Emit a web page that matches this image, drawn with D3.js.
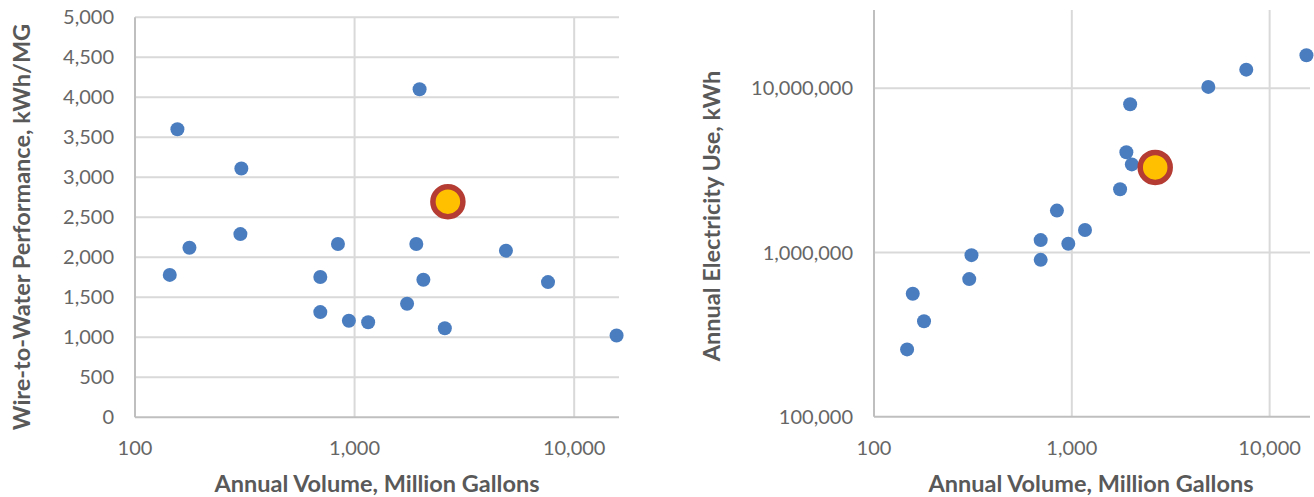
<!DOCTYPE html>
<html>
<head>
<meta charset="utf-8">
<script src="https://cdn.jsdelivr.net/npm/d3@7"></script>
<style>
  body { margin: 0; background: #fff; }
  svg { display: block; font-family: Lato, "Open Sans", sans-serif; }
  .tick-label { fill: #666; font-size: 20px; }
  .axis-title { fill: #595959; font-size: 23.5px; font-weight: bold; }
</style>
</head>
<body>
<svg id="chart" width="1314" height="497"></svg>
<script>

// left panel: annual volume (MG) vs wire-to-water performance (kWh/MG)
const perfVolume = [144, 156, 177, 305, 302, 698, 698, 840, 942, 1153, 1734, 1910, 1977, 2057, 2576, 4890, 7600, 15600];
const perfValue  = [1780, 3600, 2120, 3110, 2290, 1753, 1315, 2166, 1206, 1189, 1419, 2166, 4100, 1720, 1114, 2083, 1690, 1022];
const perfHighlight = [2660, 2695];

// right panel: annual volume (MG) vs annual electricity use (kWh)
const useVolume = [147, 157, 179, 303, 311, 696, 696, 841, 960, 1166, 1754, 1887, 2011, 1972, 2580, 4900, 7620, 15350];
const useValue  = [257000, 561000, 381000, 689000, 964000, 902000, 1190000, 1800000, 1130000, 1370000, 2430000, 4080000, 3440000, 8000000, 2890000, 10200000, 13000000, 15900000];
const useHighlight = [2640, 3300000];

const volumeTicks = [100, 1000, 10000];
const perfTicks = [0, 500, 1000, 1500, 2000, 2500, 3000, 3500, 4000, 4500, 5000];
const useTicks = [100000, 1000000, 10000000];

const volumeTitle = "Annual Volume, Million Gallons";
const perfTitle = "Wire-to-Water Performance, kWh/MG";
const useTitle = "Annual Electricity Use, kWh";

const svg = d3.select("#chart");
const fmt = d3.format(",");

function drawPanel(p) {
  const g = svg.append("g");
  const x = p.x, y = p.y;
  const [x0, x1] = x.range();
  const [y0, y1] = y.range();

  // horizontal gridlines
  g.append("g").selectAll("line")
    .data(p.yTicks.slice(1))
    .join("line")
    .attr("x1", x0).attr("x2", x1)
    .attr("y1", d => y(d)).attr("y2", d => y(d))
    .attr("stroke", "#d9d9d9").attr("stroke-width", 2);

  // vertical gridlines
  g.append("g").selectAll("line")
    .data(p.xTicks.slice(1))
    .join("line")
    .attr("x1", d => x(d)).attr("x2", d => x(d))
    .attr("y1", y0).attr("y2", y1)
    .attr("stroke", "#d9d9d9").attr("stroke-width", 2);

  // axis lines
  g.append("line").attr("x1", x0).attr("x2", x1).attr("y1", y0).attr("y2", y0)
    .attr("stroke", "#bfbfbf").attr("stroke-width", 2);
  g.append("line").attr("x1", x0).attr("x2", x0).attr("y1", y0).attr("y2", y1)
    .attr("stroke", "#bfbfbf").attr("stroke-width", 2);

  // tick labels
  g.append("g").selectAll("text")
    .data(p.yTicks)
    .join("text")
    .attr("class", "tick-label")
    .attr("x", x0 - 21)
    .attr("y", d => y(d))
    .attr("dy", "0.35em")
    .attr("text-anchor", "end")
    .text(fmt);
  g.append("g").selectAll("text")
    .data(p.xTicks)
    .join("text")
    .attr("class", "tick-label")
    .attr("x", d => x(d))
    .attr("y", y0 + 31)
    .attr("dy", "0.35em")
    .attr("text-anchor", "middle")
    .text(fmt);

  // titles
  g.append("text")
    .attr("class", "axis-title")
    .attr("x", p.xTitleX).attr("y", 492)
    .attr("text-anchor", "middle")
    .text(volumeTitle);
  g.append("text")
    .attr("class", "axis-title")
    .attr("transform", "translate(" + p.yTitleX + "," + p.yTitleY + ") rotate(-90)")
    .attr("text-anchor", "middle")
    .text(p.yTitle);

  // points
  g.append("g").selectAll("circle")
    .data(p.xs.map((v, i) => [v, p.ys[i]]))
    .join("circle")
    .attr("cx", d => x(d[0]))
    .attr("cy", d => y(d[1]))
    .attr("r", 7)
    .attr("fill", "#4a7dc0");

  g.append("circle")
    .attr("cx", x(p.hl[0]))
    .attr("cy", y(p.hl[1]))
    .attr("r", 15)
    .attr("fill", "#ffc000")
    .attr("stroke", "#b43c33")
    .attr("stroke-width", 5.5);
}

drawPanel({
  x: d3.scaleLog().domain([100, 16000]).range([135, 619]),
  y: d3.scaleLinear().domain([0, 5000]).range([417.3, 17.3]),
  xTicks: volumeTicks,
  yTicks: perfTicks,
  xs: perfVolume, ys: perfValue, hl: perfHighlight,
  xTitleX: 377,
  yTitle: perfTitle, yTitleX: 30, yTitleY: 227
});

drawPanel({
  x: d3.scaleLog().domain([100, 16000]).range([874, 1310]),
  y: d3.scaleLog().domain([100000, 30000000]).range([416.7, 10]),
  xTicks: volumeTicks,
  yTicks: useTicks,
  xs: useVolume, ys: useValue, hl: useHighlight,
  xTitleX: 1091,
  yTitle: useTitle, yTitleX: 720, yTitleY: 216
});
</script>
</body>
</html>
